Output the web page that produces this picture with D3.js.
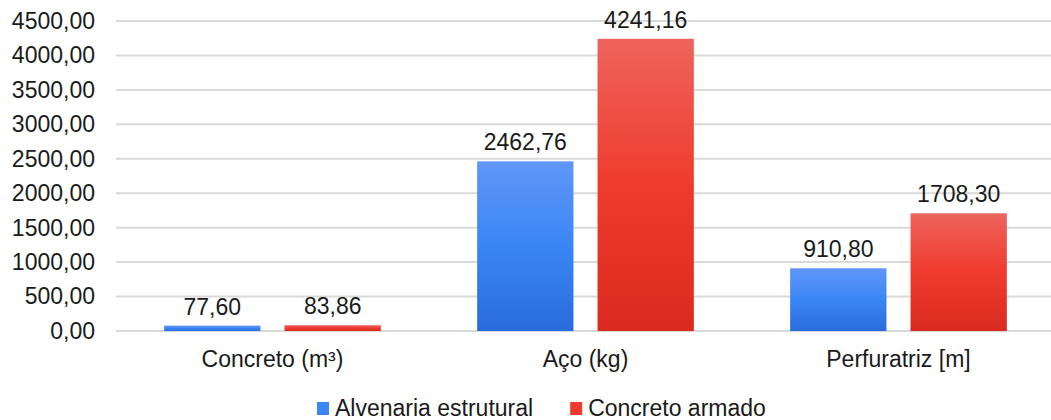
<!DOCTYPE html>
<html>
<head>
<meta charset="utf-8">
<script src="https://cdn.jsdelivr.net/npm/d3@7"></script>
<style>
  body { margin: 0; background: #fff; }
  text { font-family: "Liberation Sans", Arial, sans-serif; fill: #1a1a1a; }
</style>
</head>
<body>
<div id="chart"></div>
<script>
const categories = ["Concreto (m³)", "Aço (kg)", "Perfuratriz [m]"];
const seriesNames = ["Alvenaria estrutural", "Concreto armado"];
const alvenaria = [77.60, 2462.76, 910.80];
const concreto = [83.86, 4241.16, 1708.30];
const yTicks = [0, 500, 1000, 1500, 2000, 2500, 3000, 3500, 4000, 4500];

const width = 1051;
const height = 420;
const margin = { top: 21, right: -4, bottom: 89, left: 116 };
const fontSize = 23;

const fmt = v => d3.format(".2f")(v).replace(".", ",");

const svg = d3.select("#chart")
  .append("svg")
  .attr("width", width)
  .attr("height", height);

// gradients
const defs = svg.append("defs");
const grads = [
  { id: "gBlue", stops: ["#6096f7", "#3a86f6", "#2a6bdb"] },
  { id: "gRed", stops: ["#ee645c", "#ef3b2e", "#da2a1f"] }
];
grads.forEach(g => {
  const lg = defs.append("linearGradient")
    .attr("id", g.id)
    .attr("x1", 0).attr("y1", 0).attr("x2", 0).attr("y2", 1);
  g.stops.forEach((c, i) => {
    lg.append("stop").attr("offset", (i / (g.stops.length - 1)) * 100 + "%").attr("stop-color", c);
  });
});

const x = d3.scaleBand()
  .domain(categories)
  .range([margin.left, width - margin.right])
  .paddingInner(0)
  .paddingOuter(0);

const x1 = d3.scaleBand()
  .domain(seriesNames)
  .range([0, x.bandwidth()])
  .paddingInner(0.2)
  .paddingOuter(0.4);

const y = d3.scaleLinear()
  .domain([0, 4500])
  .range([height - margin.bottom, margin.top]);

// grid
svg.append("g")
  .selectAll("line")
  .data(yTicks)
  .enter()
  .append("line")
  .attr("x1", margin.left)
  .attr("x2", width - margin.right)
  .attr("y1", d => y(d))
  .attr("y2", d => y(d))
  .attr("stroke", "#d9d9d9")
  .attr("stroke-width", 2);

// y axis labels
const yAxis = d3.axisLeft(y)
  .tickValues(yTicks)
  .tickFormat(fmt)
  .tickSize(0)
  .tickPadding(21);

svg.append("g")
  .attr("transform", "translate(" + margin.left + ",0)")
  .call(yAxis)
  .call(g => g.select(".domain").remove())
  .call(g => g.selectAll("text")
    .attr("font-size", fontSize)
    .attr("font-family", null)
    .attr("fill", "#1a1a1a"));

// bars
const data = seriesNames.map((name, i) => ({
  name: name,
  fill: "url(#" + grads[i].id + ")",
  values: (i === 0 ? alvenaria : concreto)
}));

data.forEach(s => {
  const g = svg.append("g");
  g.selectAll("rect")
    .data(s.values)
    .enter()
    .append("rect")
    .attr("x", (d, i) => x(categories[i]) + x1(s.name))
    .attr("width", x1.bandwidth())
    .attr("y", d => y(d))
    .attr("height", d => y(0) - y(d))
    .attr("fill", s.fill);

  g.selectAll("text")
    .data(s.values)
    .enter()
    .append("text")
    .attr("x", (d, i) => x(categories[i]) + x1(s.name) + x1.bandwidth() / 2)
    .attr("y", d => y(d) - 11)
    .attr("text-anchor", "middle")
    .attr("font-size", fontSize)
    .text(d => fmt(d));
});

// category labels
svg.append("g")
  .selectAll("text")
  .data(categories)
  .enter()
  .append("text")
  .attr("x", d => x(d) + x.bandwidth() / 2)
  .attr("y", y(0) + 36)
  .attr("text-anchor", "middle")
  .attr("font-size", fontSize)
  .text(d => d);

// legend
const legendColors = ["#3a86f6", "#ef3b2e"];
const legend = svg.append("g").attr("transform", "translate(317,416)");
let lx = 0;
seriesNames.forEach((name, i) => {
  const item = legend.append("g").attr("transform", "translate(" + lx + ",0)");
  item.append("rect")
    .attr("x", 0).attr("y", -14)
    .attr("width", 12).attr("height", 13)
    .attr("fill", legendColors[i]);
  const t = item.append("text")
    .attr("x", 18)
    .attr("y", 0)
    .attr("font-size", fontSize)
    .text(name);
  lx += 18 + t.node().getComputedTextLength() + 37;
});
</script>
</body>
</html>
